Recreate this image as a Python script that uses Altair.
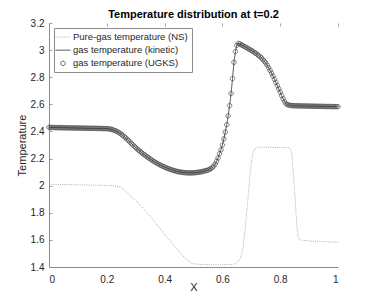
import altair as alt
import pandas as pd

# ---------------- data ----------------
series_names = ["Pure-gas temperature (NS)", "gas temperature (kinetic)", "gas temperature (UGKS)"]

# Pure-gas (NS) temperature, read at break points
ns_x = [0.00, 0.05, 0.10, 0.15, 0.20, 0.22, 0.235, 0.25, 0.26, 0.27, 0.28, 0.30, 0.33, 0.36,
        0.40, 0.44, 0.47, 0.48, 0.49, 0.50, 0.52, 0.55, 0.60, 0.63, 0.645, 0.655, 0.662,
        0.668, 0.672, 0.678, 0.684, 0.69, 0.696, 0.70, 0.705, 0.71, 0.717, 0.725, 0.78,
        0.83, 0.836, 0.84, 0.845, 0.851, 0.855, 0.859, 0.863, 0.868, 0.88, 0.92, 0.96, 1.00]
ns_T = [2.010, 2.008, 2.006, 2.004, 2.002, 2.000, 1.996, 1.985, 1.970, 1.950, 1.925, 1.890,
        1.825, 1.748, 1.640, 1.540, 1.466, 1.446, 1.432, 1.424, 1.419, 1.417, 1.417, 1.418,
        1.425, 1.440, 1.465, 1.510, 1.550, 1.670, 1.796, 1.940, 2.091, 2.170, 2.235, 2.265,
        2.278, 2.283, 2.283, 2.280, 2.270, 2.235, 2.100, 1.919, 1.790, 1.673, 1.615, 1.600,
        1.596, 1.590, 1.586, 1.582]

# cell centres of the kinetic / UGKS solution (dx = 0.005)
grid_x = [round(i * 0.005, 3) for i in range(201)]

kinetic_T = [
    2.430, 2.430, 2.429, 2.429, 2.429, 2.428, 2.428, 2.428, 2.428, 2.427,
    2.427, 2.427, 2.427, 2.426, 2.426, 2.426, 2.426, 2.426, 2.425, 2.425,
    2.425, 2.425, 2.425, 2.424, 2.424, 2.424, 2.424, 2.424, 2.423, 2.423,
    2.423, 2.423, 2.423, 2.422, 2.422, 2.422, 2.422, 2.421, 2.421, 2.421,
    2.421, 2.420, 2.418, 2.416, 2.413, 2.409, 2.405, 2.400, 2.394, 2.387,
    2.380, 2.371, 2.362, 2.353, 2.343, 2.333, 2.322, 2.312, 2.301, 2.291,
    2.281, 2.271, 2.262, 2.253, 2.244, 2.236, 2.228, 2.220, 2.212, 2.205,
    2.197, 2.190, 2.183, 2.176, 2.170, 2.164, 2.158, 2.152, 2.147, 2.142,
    2.137, 2.132, 2.128, 2.124, 2.120, 2.116, 2.113, 2.110, 2.107, 2.104,
    2.102, 2.100, 2.099, 2.097, 2.096, 2.095, 2.095, 2.094, 2.094, 2.094,
    2.095, 2.096, 2.097, 2.098, 2.100, 2.102, 2.104, 2.107, 2.110, 2.112,
    2.115, 2.120, 2.126, 2.134, 2.145, 2.160, 2.180, 2.205, 2.235, 2.265,
    2.300, 2.345, 2.395, 2.450, 2.515, 2.590, 2.680, 2.790, 2.910, 2.990,
    3.035, 3.050, 3.046, 3.040, 3.034, 3.028, 3.022, 3.016, 3.010, 3.004,
    2.998, 2.991, 2.984, 2.977, 2.969, 2.961, 2.952, 2.943, 2.930, 2.918,
    2.905, 2.888, 2.870, 2.850, 2.830, 2.808, 2.785, 2.762, 2.738, 2.714,
    2.690, 2.665, 2.641, 2.620, 2.605, 2.597, 2.594, 2.592, 2.591, 2.590,
    2.590, 2.589, 2.589, 2.589, 2.588, 2.588, 2.588, 2.588, 2.587, 2.587,
    2.587, 2.587, 2.586, 2.586, 2.586, 2.586, 2.585, 2.585, 2.585, 2.585,
    2.585, 2.584, 2.584, 2.584, 2.584, 2.584, 2.583, 2.583, 2.583, 2.583,
    2.583,
]
# UGKS markers lie on the kinetic curve (indistinguishable in the picture)
ugks_T = list(kinetic_T)

x_ticks = [0, 0.2, 0.4, 0.6, 0.8, 1]
y_ticks = [1.4, 1.6, 1.8, 2.0, 2.2, 2.4, 2.6, 2.8, 3.0, 3.2]

# ---------------- tables ----------------
lines_df = pd.concat([
    pd.DataFrame({"x": ns_x, "T": ns_T, "series": series_names[0]}),
    pd.DataFrame({"x": grid_x, "T": kinetic_T, "series": series_names[1]}),
], ignore_index=True)
points_df = pd.DataFrame({"x": grid_x, "T": ugks_T, "series": series_names[2]})

FONT = "Liberation Sans"
colors = ["#9a9a9a", "#1a1a1a", "#333333"]
line_path = "M-1.667,0H1.667"
circle_path = "M-0.5,0A0.5,0.5,0,1,0,0.5,0A0.5,0.5,0,1,0,-0.5,0Z"

x_enc = alt.X("x:Q", scale=alt.Scale(domain=[0, 1], nice=False, zero=False),
              axis=alt.Axis(values=x_ticks, format="~g", title="X",
                            titleX=144.5, titleY=20.5, titleBaseline="middle",
                            titleFontWeight="normal", titleFontSize=11))
y_enc = alt.Y("T:Q", scale=alt.Scale(domain=[1.4, 3.2], nice=False, zero=False),
              axis=alt.Axis(values=y_ticks, format="~g", title="Temperature",
                            titleX=-27, titleY=122, titleBaseline="middle",
                            titleAlign="center", titleAngle=270,
                            titleFontWeight="normal", titleFontSize=11))

color_enc = alt.Color("series:N",
                      scale=alt.Scale(domain=series_names, range=colors),
                      legend=alt.Legend(title=None, orient="top-left", offset=5))

lines = alt.Chart(lines_df).mark_line(strokeWidth=0.8).encode(
    x=x_enc, y=y_enc, color=color_enc,
    strokeDash=alt.StrokeDash("series:N",
                              scale=alt.Scale(domain=series_names,
                                              range=[[1, 1.2], [1, 0], [1, 0]]),
                              legend=alt.Legend(title=None, orient="top-left", offset=5)),
    detail="series:N",
)

points = alt.Chart(points_df).mark_point(filled=False, size=81, strokeWidth=0.6, opacity=1).encode(
    x=x_enc, y=y_enc, color=color_enc,
    shape=alt.Shape("series:N",
                    scale=alt.Scale(domain=series_names,
                                    range=[line_path, line_path, circle_path]),
                    legend=alt.Legend(title=None, orient="top-left", offset=5)),
)

chart = alt.layer(lines, points).properties(
    width=289, height=244,
    autosize=alt.AutoSizeParams(type="none"),
    padding={"left": 41, "top": 15, "right": 28, "bottom": 26},
    title=alt.TitleParams("Temperature distribution at t=0.2", font=FONT, fontSize=11,
                          fontWeight="bold", color="#000000", offset=2, dy=4,
                          anchor="middle"),
).configure_view(stroke=None).configure_axis(
    labelFont=FONT, titleFont=FONT, labelFontSize=10, labelColor="#262626",
    titleColor="#262626", domainColor="#8c8c8c", domainWidth=1,
    ticks=False, tickSize=0, labelPadding=5,
    grid=True, gridColor="#8c8c8c", gridWidth=0.8, gridDash=[3, 2000], gridOpacity=1,
).configure_axisX(labelPadding=7).configure_legend(
    labelFont=FONT, labelFontSize=9.5, labelColor="#262626",
    symbolSize=81, symbolStrokeWidth=0.8, symbolFillColor="transparent",
    strokeColor="#8c8c8c", fillColor="#ffffff", padding=4, rowPadding=3.2,
    labelOffset=5, cornerRadius=0,
)

chart.save("out.html", embed_options={"renderer": "svg", "actions": False})
